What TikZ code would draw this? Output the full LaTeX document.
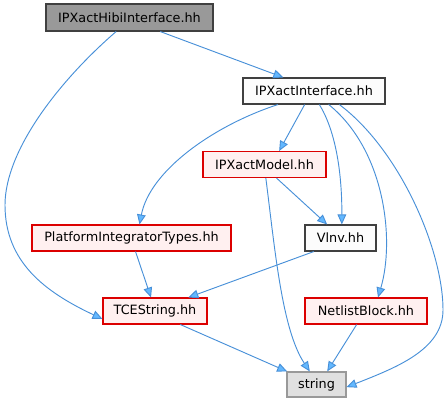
\documentclass[tikz,border=0pt]{standalone}
\usepackage{fontspec}
\setmainfont{DejaVu Sans}
\usetikzlibrary{arrows.meta}
\definecolor{edgec}{RGB}{72,144,216}
\definecolor{headc}{RGB}{99,184,255}
\definecolor{redb}{RGB}{220,0,0}
\definecolor{redf}{RGB}{255,240,240}
\definecolor{darkb}{RGB}{64,64,64}
\tikzset{
  box/.style={draw, line width=0.8pt, inner sep=0pt, minimum height=19.5pt, font=\fontsize{9.6}{11}\selectfont},
  mainbox/.style={box, draw=darkb, fill={rgb,255:red,153;green,153;blue,153}},
  plainbox/.style={box, draw=darkb, fill={rgb,255:red,252;green,252;blue,252}},
  redbox/.style={box, draw=redb, fill=redf},
  extbox/.style={box, draw={rgb,255:red,153;green,153;blue,153}, fill={rgb,255:red,224;green,224;blue,224}},
  dep/.style={draw=edgec, line width=0.7pt, -{Triangle[length=7.5pt,width=6.5pt,fill=headc]}},
}
\begin{document}
\begin{tikzpicture}[x=0.75pt,y=-0.75pt]
\useasboundingbox (0,0) rectangle (448,403);
\node[mainbox, minimum width=125.25pt, minimum height=20.25pt] (hibi) at (129.5,17.5) {IPXactHibiInterface.hh};
\node[plainbox, minimum width=106.5pt] (intf) at (314,91) {IPXactInterface.hh};
\node[redbox, minimum width=92.25pt] (model) at (264.5,164.5) {IPXactModel.hh};
\node[redbox, minimum width=149.25pt] (pit) at (131.5,238) {PlatformIntegratorTypes.hh};
\node[plainbox, minimum width=53.25pt] (vlnv) at (340.5,238) {Vlnv.hh};
\node[redbox, minimum width=78pt] (tce) at (155,311) {TCEString.hh};
\node[redbox, minimum width=91.5pt] (net) at (366,311) {NetlistBlock.hh};
\node[extbox, minimum width=44.25pt, minimum height=18.75pt] (str) at (316.5,384.5) {string};

% Hibi -> TCEString
\draw[dep] ([xshift=-10pt]hibi.south) .. controls (60,80) and (5,150) .. (5,205) .. controls (5,262) and (45,292) .. ([yshift=-6pt]tce.west);
% Hibi -> IPXactInterface
\draw[dep] ([xshift=23pt]hibi.south) -- ([xshift=-23pt]intf.north);
% Interface -> PlatformIntegratorTypes
\draw[dep] ([xshift=-27pt]intf.south) .. controls (215,125) and (150,170) .. ([xshift=6pt]pit.north);
% Interface -> Model
\draw[dep] ([xshift=-7pt]intf.south) -- ([xshift=11pt]model.north);
% Interface -> Vlnv
\draw[dep] ([xshift=4pt]intf.south) .. controls (335,130) and (342,170) .. ([xshift=1pt]vlnv.north);
% Interface -> NetlistBlock
\draw[dep] ([xshift=11pt]intf.south) .. controls (385,150) and (395,240) .. ([xshift=9pt]net.north);
% Interface -> string
\draw[dep] ([xshift=19pt]intf.south) .. controls (400,150) and (443,250) .. (443,310) .. controls (443,350) and (395,368) .. ([yshift=-2pt]str.east);
% Model -> Vlnv
\draw[dep] ([xshift=9pt]model.south) -- ([xshift=-10pt]vlnv.north);
% Model -> string
\draw[dep] ([xshift=1pt]model.south) .. controls (275,250) and (282,330) .. ([xshift=-5pt]str.north);
% PIT -> TCEString
\draw[dep] ([xshift=3pt]pit.south) -- ([xshift=-3pt]tce.north);
% Vlnv -> TCEString
\draw[dep] ([xshift=-20pt]vlnv.south) -- ([xshift=25pt]tce.north);
% TCEString -> string
\draw[dep] ([xshift=19pt]tce.south) -- ([xshift=-22pt]str.north);
% NetlistBlock -> string
\draw[dep] ([xshift=-7pt]net.south) -- ([xshift=8pt]str.north);
\end{tikzpicture}
\end{document}
